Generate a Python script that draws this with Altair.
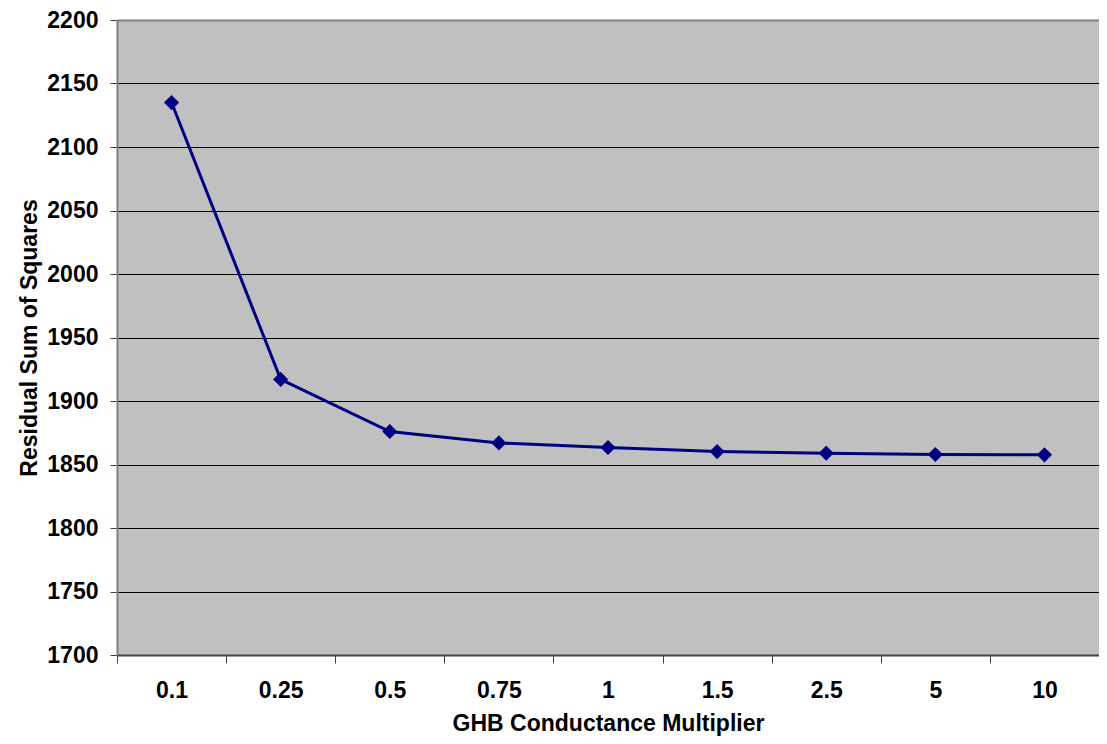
import altair as alt
import pandas as pd

multipliers = ["0.1", "0.25", "0.5", "0.75", "1", "1.5", "2.5", "5", "10"]
rss = [2135, 1917, 1876, 1867, 1863.4, 1860.2, 1858.9, 1857.9, 1857.6]
y_ticks = list(range(1700, 2201, 50))

df = pd.DataFrame({"mult": multipliers, "rss": rss})

FONT = "Liberation Sans"

x = alt.X(
    "mult:O",
    sort=multipliers,
    scale=alt.Scale(type="band", paddingInner=0, paddingOuter=0),
    axis=alt.Axis(
        title="GHB Conductance Multiplier",
        labelAngle=0,
        tickBand="extent",
        tickSize=8,
        tickColor="#404040",
        domainColor="#404040",
        domainWidth=2,
        labelPadding=16,
        titlePadding=10,
        grid=False,
    ),
)
y = alt.Y(
    "rss:Q",
    scale=alt.Scale(domain=[1700, 2200], nice=False, zero=False),
    axis=alt.Axis(
        title="Residual Sum of Squares",
        values=y_ticks,
        format="d",
        tickSize=7,
        tickColor="#404040",
        domainColor="#808080",
        domainWidth=2,
        labelPadding=12,
        titlePadding=5,
        grid=True,
        gridColor={"condition": {"test": "datum.value == 2200", "value": "#808080"}, "value": "#000000"},
        gridWidth={"condition": {"test": "datum.value == 2200", "value": 2}, "value": 1},
        gridOpacity=1,
    ),
)

line = alt.Chart(df).mark_line(color="#000080", strokeWidth=3).encode(x=x, y=y)
pts = alt.Chart(df).mark_point(
    shape="diamond", filled=True, size=230, color="#000080", opacity=1
).encode(x=x, y=y)

chart = (
    (line + pts)
    .properties(
        width=982,
        height=635,
        autosize=alt.AutoSizeParams(type="none"),
        padding={"left": 109, "top": 12, "right": 0, "bottom": 81},
        background="white",
    )
    .configure_view(fill="#C0C0C0", stroke=None)
    .configure_axis(
        labelFont=FONT,
        titleFont=FONT,
        labelFontSize=23,
        titleFontSize=23,
        labelFontWeight="bold",
        titleFontWeight="bold",
        labelColor="black",
        titleColor="black",
    )
)

chart.save("out.html", embed_options={"renderer": "svg", "actions": False})
